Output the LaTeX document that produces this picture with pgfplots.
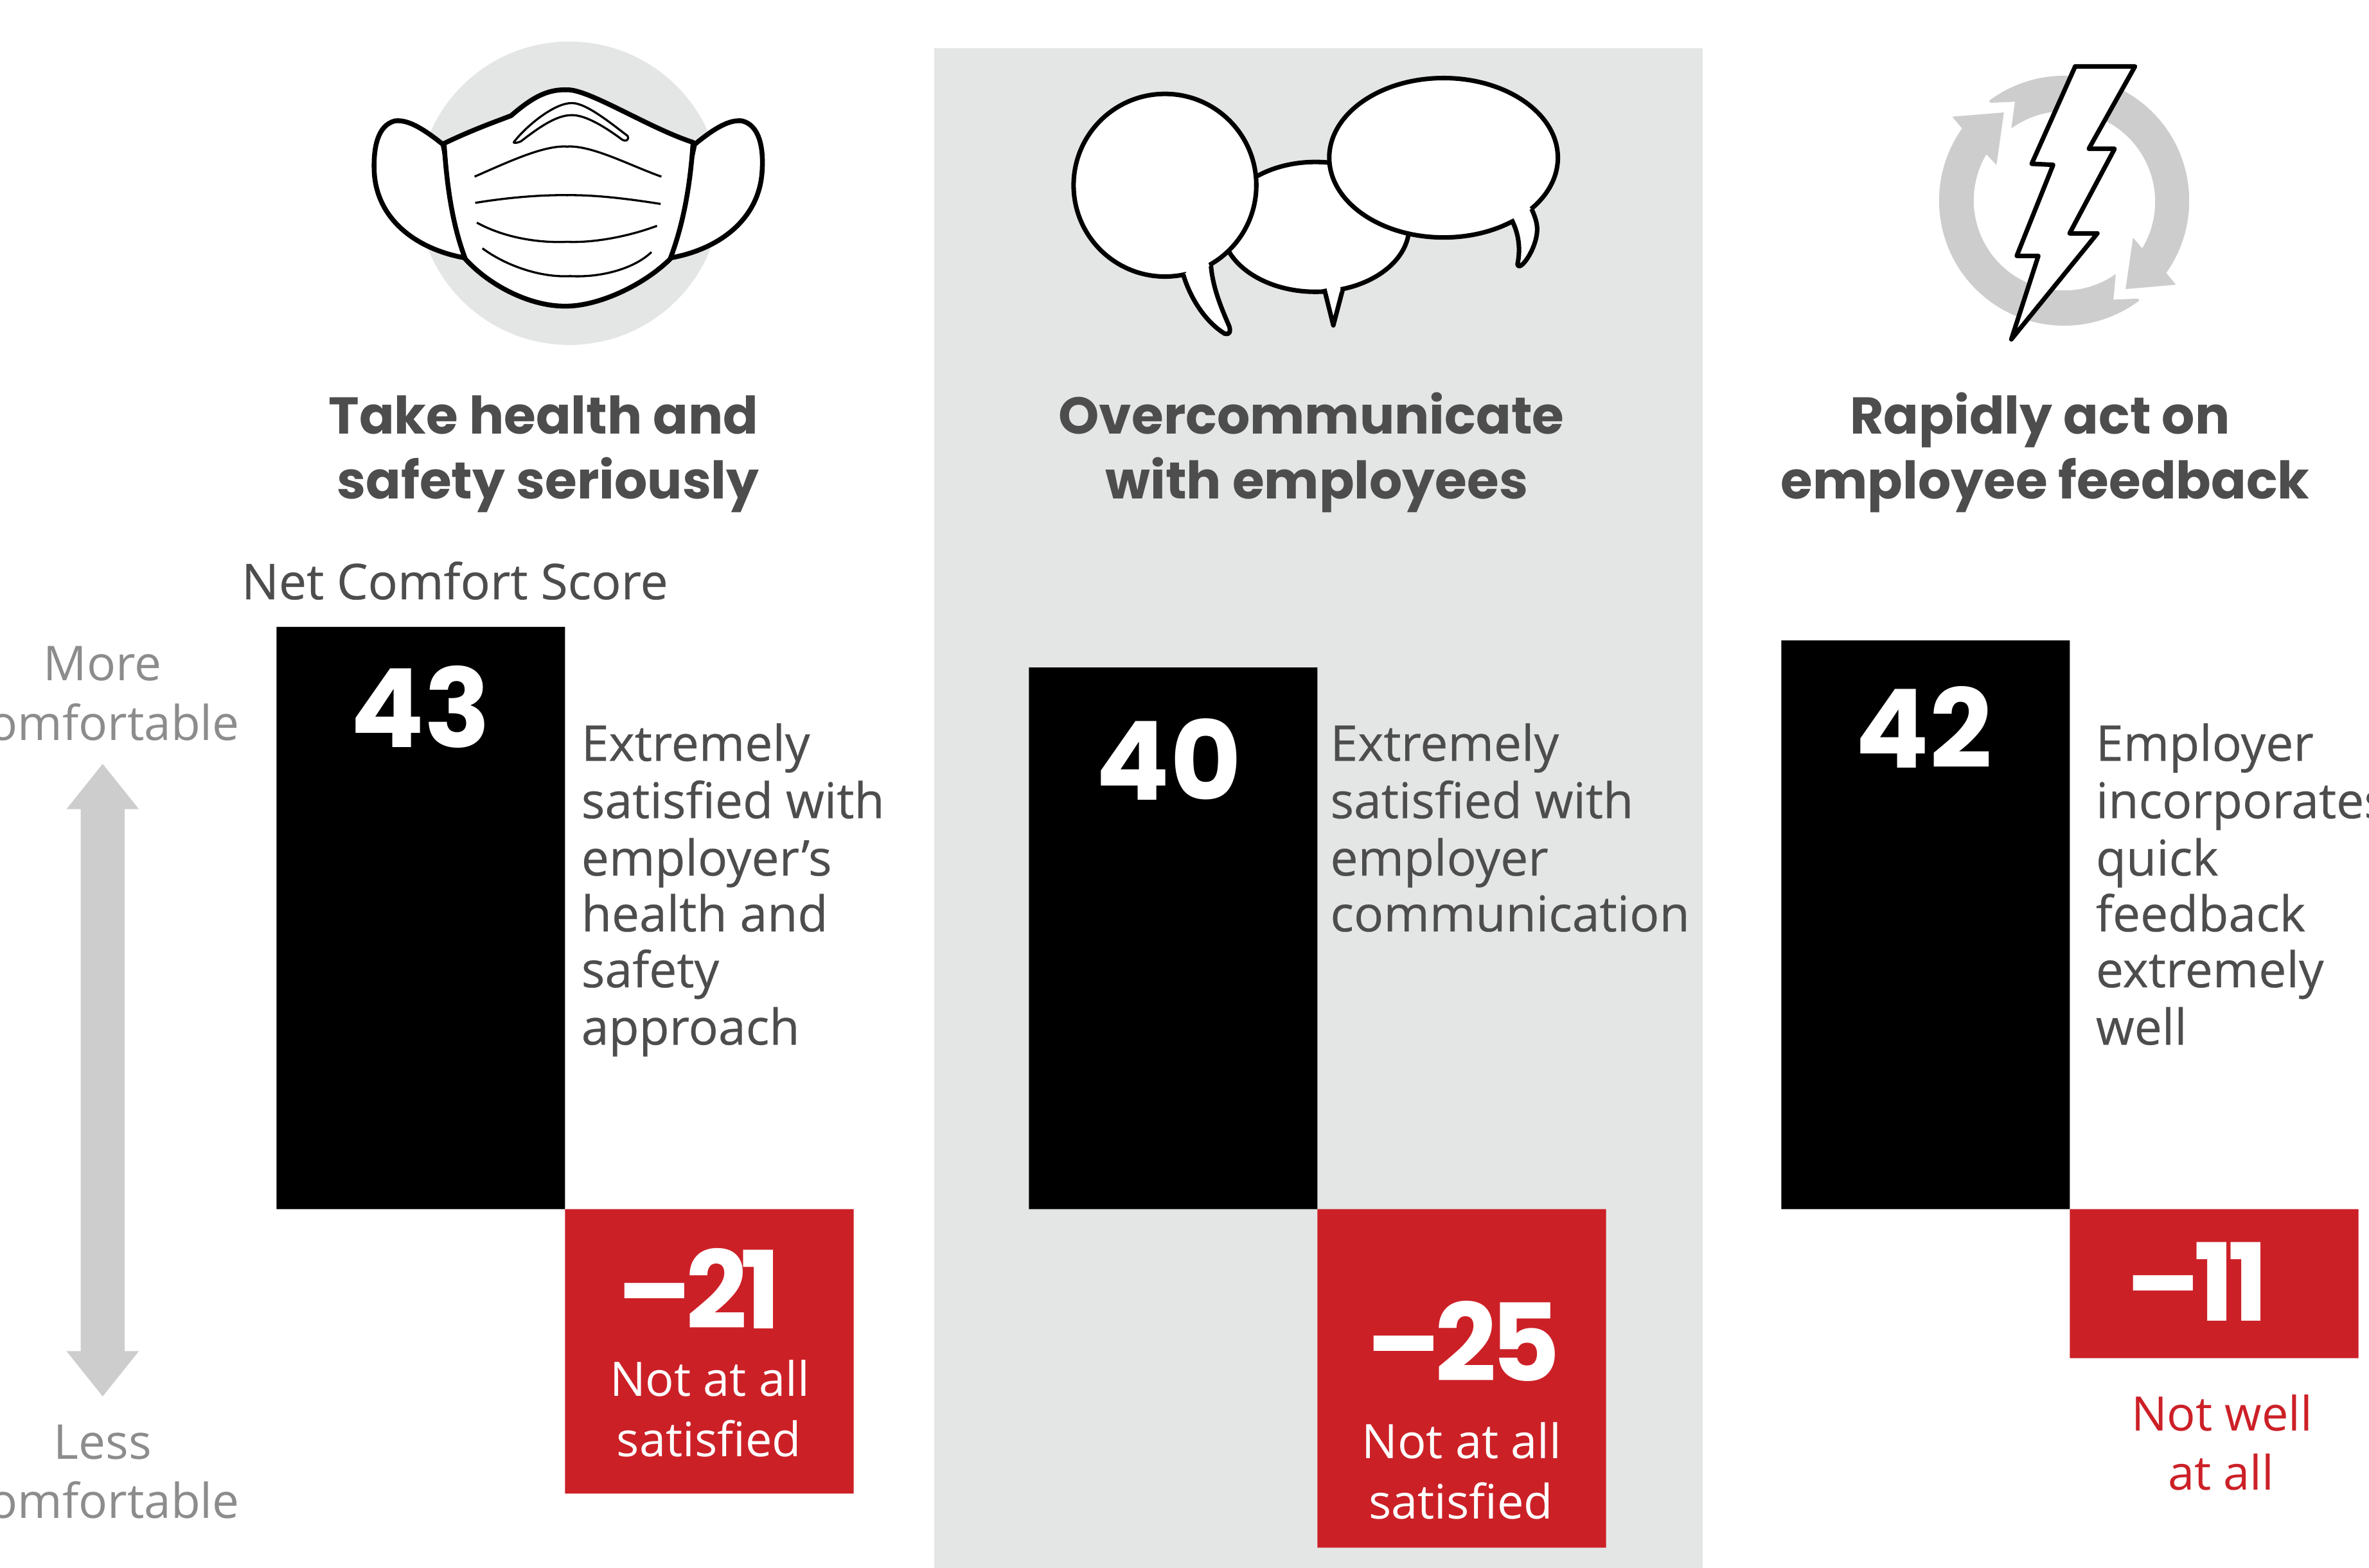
\documentclass[border=0pt]{standalone}
\usepackage{fontspec}
\usepackage{pgfplots}
\pgfplotsset{compat=1.18}
\setmainfont{Open Sans}
\newfontfamily\inkfont{Open Sans}[RawFeature={embolden=0.35}]
\newfontfamily\headfont{Poppins}[BoldFont={Poppins Bold}]
\newfontfamily\tightfont{Poppins}[BoldFont={Poppins Bold},LetterSpace=-6]
\definecolor{panel}{HTML}{E4E6E5}
\definecolor{ring}{HTML}{CDCDCD}
\definecolor{redbar}{HTML}{CC2027}
\definecolor{ink}{HTML}{4D4D4D}
\definecolor{soft}{HTML}{8C8C8C}
% text helpers, sizes in pt
\newcommand{\titlefont}{\headfont\bfseries\fontsize{9.75}{12}\selectfont}
\newcommand{\bodyfont}{\inkfont\fontsize{9.3}{11}\selectfont}
\newcommand{\sidefont}{\fontsize{9.05}{11}\selectfont}
\newcommand{\smallfont}{\fontsize{8.95}{11}\selectfont}
\newcommand{\numfont}{\headfont\bfseries\fontsize{20.6}{24}\selectfont}
\newcommand{\negfont}{\tightfont\bfseries\fontsize{20.3}{24}\selectfont}
\begin{document}
\begin{tikzpicture}
\useasboundingbox (0,0) rectangle (15.68,10.38);
\clip (0,0) rectangle (15.68,10.38);
% background and icons, in px of the shrunk reference (y down)
\begin{scope}[shift={(0cm,10.38cm)},yscale=-1,x=0.01cm,y=0.01cm,line join=round]
  \fill[panel] (618.7,32) rectangle (1127.5,1040);
  % mask
  \fill[panel] (377,128) circle (100.5);
  \begin{scope}[line width=0.32mm,fill=white]
    \filldraw (293.4,95.7) .. controls (280,85) and (270,79) .. (261.5,80.1)
      .. controls (250,83) and (247,98) .. (247.9,115)
      .. controls (250,145) and (275,165) .. (308.2,170.9) -- cycle;
    \filldraw (460,95.7) .. controls (473,85) and (483,79) .. (491.5,80.1)
      .. controls (503,83) and (506,98) .. (504.6,115)
      .. controls (502,145) and (477,165) .. (443.8,170.9) -- cycle;
    \filldraw (294.1,95) .. controls (315,85) and (330,80) .. (338.5,76.6)
      .. controls (352,65) and (362,59) .. (375.5,59.5)
      .. controls (390,59) and (430,85) .. (459,94.3)
      .. controls (457,125) and (452,150) .. (443.8,171.6)
      .. controls (425,190) and (395,203) .. (374.4,202.8)
      .. controls (352,203) and (325,190) .. (308.2,171.6)
      .. controls (300,150) and (296,125) .. (294.1,95) -- cycle;
  \end{scope}
  \begin{scope}[line width=0.14mm]
    \draw (340.7,93.6) .. controls (350,82) and (368,68) .. (378.7,68.3)
      .. controls (388,68) and (405,82) .. (415.6,90)
      .. controls (417,93) and (414,94) .. (412,92.5)
      .. controls (402,85) and (388,76) .. (378.7,76.3)
      .. controls (368,76) and (355,86) .. (345,93.6)
      .. controls (342,95) and (339,95) .. (340.7,93.6) -- cycle;
    \draw (314.3,117) .. controls (335,108) and (360,96) .. (375.5,97.1)
      .. controls (392,96) and (418,110) .. (438,117);
    \draw (314.7,134.4) .. controls (335,131) and (358,129) .. (375.5,129.3)
      .. controls (395,129) and (418,132) .. (437.5,135.1);
    \draw (315.8,147.5) .. controls (335,158) and (358,161) .. (375.5,160.2)
      .. controls (395,161) and (418,156) .. (435.1,149.6);
    \draw (319.5,164.5) .. controls (335,176) and (358,184) .. (377.6,182.9)
      .. controls (398,184) and (420,178) .. (431.4,167);
  \end{scope}
  % speech bubbles
  \begin{scope}[line width=0.3mm,fill=white]
    \filldraw (871.2,150.3) ellipse (62 and 43);
    \filldraw (877,191.4) -- (883,215.5) -- (889.5,190.7);
    \draw[white,line width=0.6mm] (879,190.5) -- (887.5,190);
    \filldraw (956,104.5) ellipse (75.7 and 52.8);
    \filldraw (1001,145.4) .. controls (1006,155) and (1007,165) .. (1005,175)
      .. controls (1006,181) and (1018,165) .. (1018,151.7)
      .. controls (1018,147) and (1016,142) .. (1013.6,136.9);
    \draw[white,line width=0.6mm] (1003,143) -- (1012,136);
    \filldraw (771.5,122.7) circle (60.5);
    \filldraw (783.5,181.5) .. controls (788,197) and (798,213) .. (811,221)
      .. controls (815,222) and (815,219) .. (814,216)
      .. controls (808,202) and (803,190) .. (801.8,174.4);
    \draw[white,line width=0.6mm] (785,179) -- (800,173.5);
  \end{scope}
  % cycle arrows and bolt
  \fill[ring] (1318.2,68.1) -- (1334.4,67.4) -- (1332,85.1)
    arc[start angle=-126,end angle=31,radius=60] -- (1412.6,157.4)
    -- (1407.7,191.5) -- (1441,188.6) -- (1434.6,180.8)
    arc[start angle=35.3,end angle=-127,radius=82.8] -- cycle;
  \fill[ring] (1415.8,197.8) -- (1399.6,198.5) -- (1401.2,181.5)
    arc[start angle=54.8,end angle=210.7,radius=59.7] -- (1322.2,109.2)
    -- (1327.1,74.5) -- (1292.9,77.3) -- (1299.4,85.1)
    arc[start angle=215.3,end angle=53,radius=82.8] -- cycle;
  \filldraw[fill=white,line width=0.3mm] (1374.3,44) -- (1413.9,44) -- (1383.3,98.6)
    -- (1400.4,98.6) -- (1370.6,154.6) -- (1389,154.6) -- (1332,224.8)
    -- (1349.9,169.5) -- (1335.6,169.5) -- (1359.7,109.2) -- (1345.5,108.5) -- cycle;
  % double arrow
  \fill[ring] (68,506) -- (92,536) -- (82.5,536) -- (82.5,895) -- (92,895) -- (68,925)
    -- (44,895) -- (53.5,895) -- (53.5,536) -- (44,536) -- cycle;
\end{scope}
\begin{axis}[
    at={(0,0)},anchor=south west,
    width=15.68cm,height=10.38cm,scale only axis,
    xmin=0,xmax=1568,
    ymin=-26.49,ymax=89.29,
    hide axis,clip=false,
    ybar,bar width=1.91cm,bar shift=0pt,
  ]
  \addplot[fill=black,draw=none] coordinates {(278.5,43) (776.5,40) (1274.5,42)};
  \addplot[fill=redbar,draw=none] coordinates {(469.5,-21) (967.5,-25) (1465.5,-11)};
\end{axis}
% all text, same px coordinates
\begin{scope}[shift={(0cm,10.38cm)},yscale=-1,x=0.01cm,y=0.01cm,
    every node/.style={inner sep=0pt,outer sep=0pt,anchor=base}]
  \begin{scope}[every node/.append style={text=ink,font=\titlefont}]
    \node at (360,287.5) {Take health and};
    \node at (363,330.5) {safety seriously};
    \node at (868.5,287.5) {Overcommunicate};
    \node at (872,330.5) {with employees};
    \node at (1351,287.5) {Rapidly act on};
    \node at (1354.5,330.5) {employee feedback};
  \end{scope}
  \begin{scope}[every node/.append style={text=ink,font=\bodyfont}]
    \node[anchor=base west] at (160,397) {Net Comfort Score};
    \node[anchor=base west] at (385,504) {Extremely};
    \node[anchor=base west] at (385,542) {satisfied with};
    \node[anchor=base west] at (385,580) {employer’s};
    \node[anchor=base west] at (385,617) {health and};
    \node[anchor=base west] at (385,654) {safety};
    \node[anchor=base west] at (385,692) {approach};
    \node[anchor=base west] at (881,504) {Extremely};
    \node[anchor=base west] at (881,542) {satisfied with};
    \node[anchor=base west] at (881,580) {employer};
    \node[anchor=base west] at (881,617) {communication};
    \node[anchor=base west] at (1388,504) {Employer};
    \node[anchor=base west] at (1388,542) {incorporates};
    \node[anchor=base west] at (1388,580) {quick};
    \node[anchor=base west] at (1388,617) {feedback};
    \node[anchor=base west] at (1388,654) {extremely};
    \node[anchor=base west] at (1388,692) {well};
  \end{scope}
  \begin{scope}[every node/.append style={text=soft,font=\sidefont}]
    \node at (68,451) {More};
    \node at (68,490.5) {comfortable};
    \node at (68,966.5) {Less};
    \node at (68,1005.5) {comfortable};
  \end{scope}
  \begin{scope}[every node/.append style={text=white,font=\numfont}]
    \node at (278.5,495) {43};
    \node at (774,530) {40};
    \node at (1274,508.5) {42};
  \end{scope}
  \begin{scope}[every node/.append style={text=white,font=\negfont}]
    \node at (463,880) {–21};
    \node at (969,915) {–25};
    \node at (1455,875) {–11};
  \end{scope}
  \begin{scope}[every node/.append style={text=white,font=\smallfont}]
    \node at (470,925) {Not at all};
    \node at (469.5,965) {satisfied};
    \node at (968,966) {Not at all};
    \node at (967.5,1006) {satisfied};
  \end{scope}
  \begin{scope}[every node/.append style={text=redbar,font=\smallfont}]
    \node at (1471.5,948) {Not well};
    \node at (1471,987) {at all};
  \end{scope}
\end{scope}
\end{tikzpicture}
\end{document}
